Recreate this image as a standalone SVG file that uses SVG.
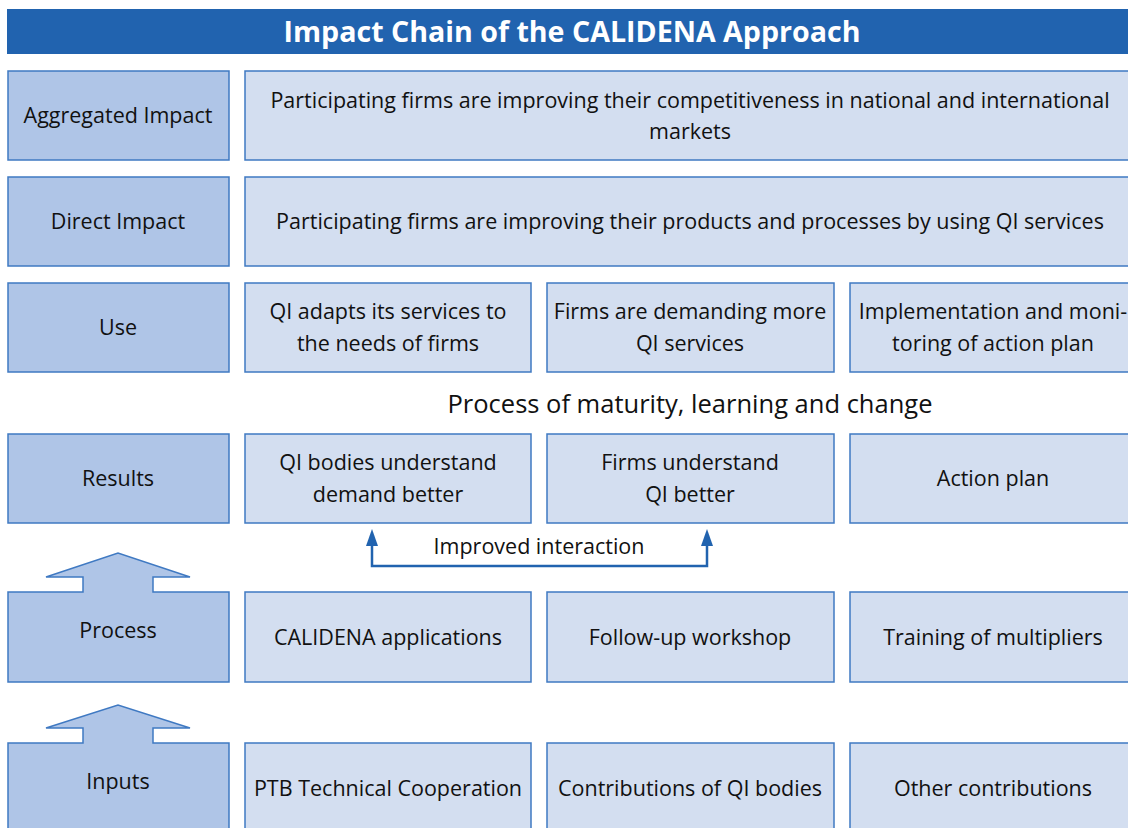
<svg xmlns="http://www.w3.org/2000/svg" width="1128" height="828" viewBox="0 0 1128 828">
<defs>
<style>
.lbl{fill:#AFC5E7;stroke:#3F79C2;stroke-width:1.5}
.box{fill:#D3DEF0;stroke:#3F79C2;stroke-width:1.5}
text{font-family:"Open Sans","Liberation Sans",sans-serif;font-size:21.5px;fill:#111;text-anchor:middle}
.title{font-weight:bold;font-size:28.6px;fill:#fff}
.con{fill:none;stroke:#2163AF;stroke-width:2.5}
</style>
</defs>
<rect width="1128" height="828" fill="#fff"/>
<g id="title">
<rect x="7" y="9" width="1125" height="45" fill="#2163AF"/>
<text class="title" x="572" y="42">Impact Chain of the CALIDENA Approach</text>
</g>

<g id="aggregated-impact"><rect class="lbl" x="8" y="71" width="221" height="89"/><text x="118" y="123">Aggregated Impact</text></g>
<g id="agg-text"><rect class="box" x="245" y="71" width="890" height="89"/><text x="690" y="108">Participating firms are improving their competitiveness in national and international</text><text x="690" y="139">markets</text></g>

<g id="direct-impact"><rect class="lbl" x="8" y="177" width="221" height="89"/><text x="118" y="229">Direct Impact</text></g>
<g id="direct-text"><rect class="box" x="245" y="177" width="890" height="89"/><text x="690" y="229">Participating firms are improving their products and processes by using QI services</text></g>

<g id="use"><rect class="lbl" x="8" y="283" width="221" height="89"/><text x="118" y="335">Use</text></g>
<g id="use-1"><rect class="box" x="245" y="283" width="286" height="89"/><text x="388" y="319">QI adapts its services to</text><text x="388" y="351">the needs of firms</text></g>
<g id="use-2"><rect class="box" x="547" y="283" width="287" height="89"/><text x="690" y="319">Firms are demanding more</text><text x="690" y="351">QI services</text></g>
<g id="use-3"><rect class="box" x="850" y="283" width="285" height="89"/><text x="993" y="319">Implementation and moni-</text><text x="993" y="351">toring of action plan</text></g>

<text x="690" y="413" style="font-size:25.5px">Process of maturity, learning and change</text>

<g id="results"><rect class="lbl" x="8" y="434" width="221" height="89"/><text x="118" y="486">Results</text></g>
<g id="res-1"><rect class="box" x="245" y="434" width="286" height="89"/><text x="388" y="470">QI bodies understand</text><text x="388" y="502">demand better</text></g>
<g id="res-2"><rect class="box" x="547" y="434" width="287" height="89"/><text x="690" y="470">Firms understand</text><text x="690" y="502">QI better</text></g>
<g id="res-3"><rect class="box" x="850" y="434" width="285" height="89"/><text x="993" y="486">Action plan</text></g>

<g id="process"><path class="lbl" d="M8,592 H83 V577 H46 L118,553 L190,577 H153 V592 H229 V682 H8 Z"/><text x="118" y="638">Process</text></g>
<g id="proc-1"><rect class="box" x="245" y="592" width="286" height="90"/><text x="388" y="645">CALIDENA applications</text></g>
<g id="proc-2"><rect class="box" x="547" y="592" width="287" height="90"/><text x="690" y="645">Follow-up workshop</text></g>
<g id="proc-3"><rect class="box" x="850" y="592" width="285" height="90"/><text x="993" y="645">Training of multipliers</text></g>

<g id="inputs"><path class="lbl" d="M8,743 H83 V728 H46 L118,705 L190,728 H153 V743 H229 V835 H8 Z"/><text x="118" y="789">Inputs</text></g>
<g id="in-1"><rect class="box" x="245" y="743" width="286" height="92"/><text x="388" y="796">PTB Technical Cooperation</text></g>
<g id="in-2"><rect class="box" x="547" y="743" width="287" height="92"/><text x="690" y="796">Contributions of QI bodies</text></g>
<g id="in-3"><rect class="box" x="850" y="743" width="285" height="92"/><text x="993" y="796">Other contributions</text></g>

<g id="connectors">
<path class="con" d="M372,546 V566 H707 V546"/>
<path d="M366,546 L372,529 L378,546 Z" fill="#2163AF"/>
<path d="M701,546 L707,529 L713,546 Z" fill="#2163AF"/>
<text x="539" y="554">Improved interaction</text>
</g>
</svg>
